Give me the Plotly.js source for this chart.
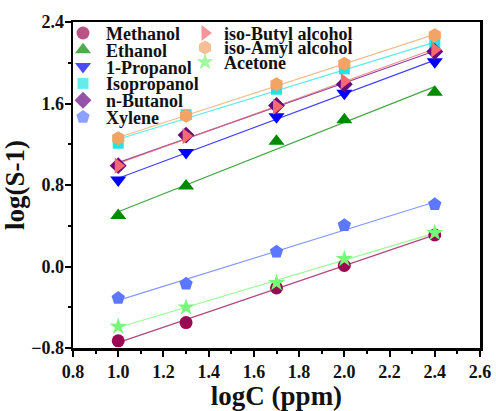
<!DOCTYPE html>
<html>
<head>
<meta charset="utf-8">
<script src="https://cdn.plot.ly/plotly-3.0.1.min.js"></script>
<style>
  html, body { margin: 0; padding: 0; background: #fff; }
  #chart { width: 496px; height: 411px; }
</style>
</head>
<body>
<div id="chart"></div>
<script>
// Concentration levels (log of ppm)
const logC = [1.0, 1.3, 1.7, 2.0, 2.4];

// Sensor response log(S-1) for each analyte
const methanol    = [-0.73, -0.55, -0.21, 0.01, 0.31];
const ethanol     = [0.50, 0.79, 1.23, 1.44, 1.71];
const propanol1   = [0.85, 1.12, 1.47, 1.70, 2.01];
const isopropanol = [1.21, 1.49, 1.74, 1.94, 2.18];
const nButanol    = [0.99, 1.29, 1.58, 1.79, 2.11];
const xylene      = [-0.31, -0.17, 0.145, 0.405, 0.61];
const isoButyl    = [0.99, 1.28, 1.57, 1.82, 2.13];
const isoAmyl     = [1.26, 1.48, 1.79, 1.99, 2.27];
const acetone     = [-0.59, -0.40, -0.16, 0.075, 0.33];

const names = ['Methanol', 'Ethanol', '1-Propanol', 'Isopropanol', 'n-Butanol',
               'Xylene', 'iso-Butyl alcohol', 'iso-Amyl alcohol', 'Acetone'];
const seriesValues = [methanol, ethanol, propanol1, isopropanol, nButanol,
                      xylene, isoButyl, isoAmyl, acetone];

// Styling per series
const colors  = ['#9a0a52', '#008a00', '#0000ff', '#22e4e4', '#660a80',
                 '#5b78ff', '#f46a6e', '#f2a366', '#78f878'];
const symbols = ['circle', 'triangle-up', 'triangle-down', 'square', 'diamond',
                 'pentagon', 'triangle-right', 'hexagon', 'star'];
const sizes   = [13, 14, 14, 11, 13, 14, 14, 14, 13];

// Least-squares line through each series
function linFit(x, y) {
  const n = x.length;
  const mx = x.reduce((a, b) => a + b, 0) / n;
  const my = y.reduce((a, b) => a + b, 0) / n;
  let sxy = 0, sxx = 0;
  for (let i = 0; i < n; i++) { sxy += (x[i] - mx) * (y[i] - my); sxx += (x[i] - mx) ** 2; }
  const k = sxy / sxx;
  return v => my + k * (v - mx);
}

const serif = 'Liberation Serif, Times New Roman, serif';
const traces = [];
const xEnds = [logC[0], logC[logC.length - 1]];

seriesValues.forEach((ys, i) => {
  const f = linFit(logC, ys);
  traces.push({
    x: xEnds, y: xEnds.map(f), mode: 'lines', showlegend: false, hoverinfo: 'skip',
    line: { color: colors[i], width: 1.2 }, opacity: 0.75
  });
});
seriesValues.forEach((ys, i) => {
  traces.push({
    x: logC, y: ys, mode: 'markers', name: names[i], showlegend: false,
    marker: { symbol: symbols[i], size: sizes[i], color: colors[i], line: { width: 0 } }
  });
});

// Key: two columns of symbol + label placed in the upper-left corner
const plotL = 73, plotT = 22, plotW = 407, plotH = 326;
const toPx = px => (px - plotL) / plotW;
const toPy = py => (plotT + plotH - py) / plotH;
const keyCols = [
  { start: 0, count: 6, mx: 83, tx: 104, y0: 33, dy: 16.8 },
  { start: 6, count: 3, mx: 205, tx: 222, y0: 33, dy: 14.5 }
];
const keyX = [], keyY = [], keySym = [], keyCol = [], keySize = [];
const annotations = [];
keyCols.forEach(c => {
  for (let j = 0; j < c.count; j++) {
    const i = c.start + j;
    const py = c.y0 + j * c.dy;
    keyX.push(toPx(c.mx)); keyY.push(toPy(py));
    keySym.push(symbols[i]); keyCol.push(colors[i]); keySize.push(sizes[i]);
    annotations.push({
      xref: 'paper', yref: 'paper', x: toPx(c.tx), y: toPy(py + 1),
      xanchor: 'left', yanchor: 'middle', showarrow: false, text: names[i],
      font: { family: serif, size: 18, weight: 'bold', color: '#111' }
    });
  }
});
traces.push({
  x: keyX, y: keyY, xaxis: 'x2', yaxis: 'y2', mode: 'markers', showlegend: false,
  hoverinfo: 'skip', cliponaxis: false,
  marker: { symbol: keySym, color: keyCol, size: keySize, line: { width: 0 } }
});

const tickFont = { family: serif, size: 18, weight: 'bold', color: '#111' };
const layout = {
  width: 496, height: 411,
  margin: { l: plotL, r: 496 - plotL - plotW, t: plotT, b: 411 - plotT - plotH },
  paper_bgcolor: '#fff', plot_bgcolor: '#fff',
  showlegend: false,
  xaxis: {
    range: [0.8, 2.6], tick0: 0.8, dtick: 0.2, tickformat: '.1f',
    ticks: 'outside', ticklen: 6, tickwidth: 2, tickcolor: '#000',
    minor: { dtick: 0.1, ticks: 'outside', ticklen: 3, tickwidth: 2, tickcolor: '#000' },
    showline: true, linewidth: 2.5, linecolor: '#000', mirror: true,
    showgrid: false, zeroline: false, tickfont: tickFont,
    title: { text: 'logC (ppm)', font: { family: serif, size: 27, weight: 'bold', color: '#111' }, standoff: 6 }
  },
  yaxis: {
    range: [-0.8, 2.4], tick0: -0.8, dtick: 0.8, tickformat: '.1f',
    ticks: 'outside', ticklen: 6, tickwidth: 2, tickcolor: '#000', ticklabelstandoff: -3,
    minor: { dtick: 0.4, ticks: 'outside', ticklen: 3, tickwidth: 2, tickcolor: '#000' },
    showline: true, linewidth: 2.5, linecolor: '#000', mirror: true,
    showgrid: false, zeroline: false, tickfont: tickFont,
    title: { text: 'log(S-1)', font: { family: serif, size: 27, weight: 'bold', color: '#111' }, standoff: 1 }
  },
  xaxis2: { overlaying: 'x', range: [0, 1], visible: false, fixedrange: true },
  yaxis2: { overlaying: 'y', range: [0, 1], visible: false, fixedrange: true },
  annotations: annotations
};

Plotly.newPlot('chart', traces, layout, { displayModeBar: false, staticPlot: true });
</script>
</body>
</html>
